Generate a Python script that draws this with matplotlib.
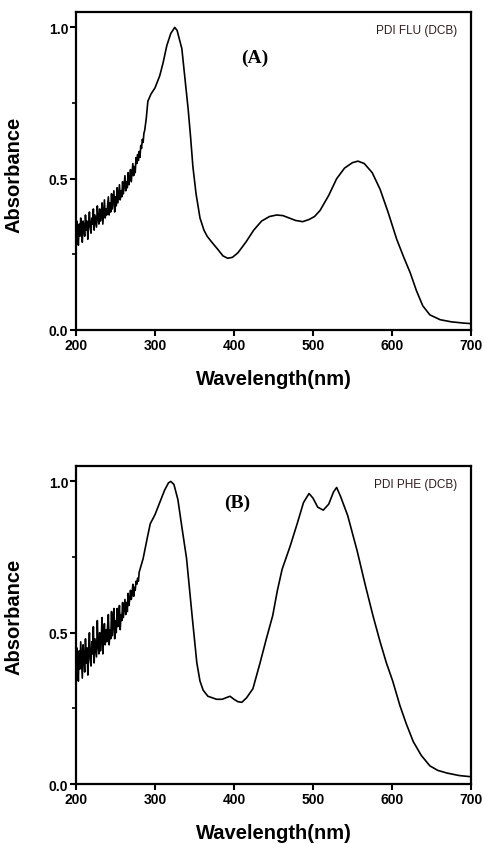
import matplotlib
matplotlib.use('Agg')
import matplotlib.pyplot as plt
from matplotlib.ticker import MultipleLocator

plt.rcParams['font.family'] = ['Liberation Sans', 'DejaVu Sans']

# ---- (A) PDI FLU in DCB ----
# noisy part, 200-290 nm, 1 nm steps
wl_a_noisy = list(range(200, 291))
abs_a_noisy = [0.30, 0.36, 0.33, 0.28, 0.35, 0.31, 0.37, 0.32, 0.29, 0.36,
               0.34, 0.31, 0.38, 0.33, 0.36, 0.30, 0.35, 0.39, 0.34, 0.32,
               0.37, 0.35, 0.40, 0.33, 0.38, 0.36, 0.34, 0.41, 0.37, 0.35,
               0.40, 0.36, 0.38, 0.42, 0.35, 0.39, 0.43, 0.37, 0.40, 0.38,
               0.41, 0.44, 0.38, 0.42, 0.39, 0.45, 0.40, 0.43, 0.46, 0.39,
               0.44, 0.41, 0.47, 0.42, 0.45, 0.48, 0.43, 0.46, 0.44, 0.49,
               0.45, 0.48, 0.51, 0.46, 0.49, 0.47, 0.52, 0.48, 0.50, 0.53,
               0.49, 0.52, 0.55, 0.51, 0.54, 0.52, 0.57, 0.55, 0.58, 0.56,
               0.59, 0.57, 0.61, 0.60, 0.63, 0.62, 0.65, 0.66, 0.68, 0.70,
               0.73]
wl_a_smooth = [291, 295, 300, 306, 310, 315, 320, 325, 328, 331, 334, 338, 342,
               345, 348, 352, 357, 362, 366, 372, 380, 386, 392, 398, 405, 415,
               425, 435, 445, 454, 462, 470, 478, 487, 495, 502, 509, 520, 530,
               540, 550, 557, 565, 575, 585, 595, 606, 615, 623, 631, 639, 648,
               661, 675, 690, 700]
abs_a_smooth = [0.756, 0.78, 0.80, 0.84, 0.88, 0.94, 0.98, 1.0, 0.99, 0.96, 0.93,
                0.83, 0.73, 0.64, 0.54, 0.45, 0.37, 0.33, 0.31, 0.29, 0.265,
                0.245, 0.237, 0.24, 0.255, 0.29, 0.33, 0.36, 0.375, 0.38, 0.378,
                0.37, 0.362, 0.358, 0.365, 0.375, 0.395, 0.445, 0.50, 0.535,
                0.553, 0.558, 0.55, 0.52, 0.465, 0.39, 0.30, 0.24, 0.19, 0.13,
                0.08, 0.05, 0.034, 0.027, 0.023, 0.021]

# ---- (B) PDI PHE in DCB ----
wl_b_noisy = list(range(200, 281))
abs_b_noisy = [0.36, 0.45, 0.40, 0.34, 0.44, 0.38, 0.47, 0.41, 0.35, 0.46,
               0.42, 0.37, 0.48, 0.40, 0.45, 0.36, 0.44, 0.50, 0.41, 0.39,
               0.47, 0.43, 0.52, 0.40, 0.48, 0.45, 0.42, 0.54, 0.46, 0.43,
               0.50, 0.44, 0.48, 0.55, 0.43, 0.49, 0.53, 0.46, 0.51, 0.47,
               0.52, 0.56, 0.46, 0.51, 0.48, 0.57, 0.49, 0.53, 0.58, 0.48,
               0.54, 0.50, 0.58, 0.52, 0.55, 0.59, 0.51, 0.56, 0.54, 0.60,
               0.55, 0.58, 0.61, 0.56, 0.60, 0.57, 0.63, 0.59, 0.61, 0.64,
               0.61, 0.63, 0.66, 0.62, 0.65, 0.64, 0.67, 0.66, 0.68, 0.67,
               0.70]
wl_b_smooth = [285, 290, 294, 300, 306, 312, 317, 320, 324, 329, 334, 340, 347,
               353, 357, 361, 367, 378, 385, 390, 395, 400, 405, 410, 416, 424,
               433, 441, 449, 455, 461, 471, 480, 488, 495, 500, 506, 513, 520,
               526, 530, 535, 544, 556, 566, 576, 585, 593, 601, 610, 618, 627,
               637, 648, 658, 670, 685, 700]
abs_b_smooth = [0.745, 0.81, 0.86, 0.89, 0.93, 0.97, 0.995, 1.0, 0.99, 0.94,
                0.85, 0.745, 0.556, 0.40, 0.34, 0.31, 0.29, 0.28, 0.28, 0.285,
                0.29, 0.28, 0.272, 0.27, 0.285, 0.315, 0.40, 0.48, 0.556, 0.64,
                0.71, 0.785, 0.86, 0.93, 0.96, 0.945, 0.915, 0.905, 0.925, 0.965,
                0.98, 0.95, 0.887, 0.77, 0.66, 0.556, 0.47, 0.40, 0.34, 0.26,
                0.20, 0.14, 0.095, 0.06, 0.045, 0.036, 0.028, 0.024]

# (x, y, tag, name, axes rect, tag position, ylabel centre)
panels = [
    (wl_a_noisy + wl_a_smooth, abs_a_noisy + abs_a_smooth, '(A)', 'PDI FLU (DCB)',
     [0.157, 0.6083, 0.816, 0.376], (0.453, 0.858), 0.49),
    (wl_b_noisy + wl_b_smooth, abs_b_noisy + abs_b_smooth, '(B)', 'PDI PHE (DCB)',
     [0.157, 0.0710, 0.816, 0.376], (0.408, 0.887), 0.53),
]

fig = plt.figure(figsize=(4.84, 8.45), dpi=100)

for wl, ab, tag, name, rect, tagpos, ylc in panels:
    ax = fig.add_axes(rect)
    ax.plot(wl, ab, color='black', lw=1.2)
    ax.set_xlim(200, 700)
    ax.set_ylim(0, 1.05)
    ax.xaxis.set_major_locator(MultipleLocator(100))
    ax.yaxis.set_major_locator(MultipleLocator(0.5))
    ax.yaxis.set_minor_locator(MultipleLocator(0.25))
    for s in ax.spines.values():
        s.set_linewidth(1.6)
    ax.tick_params(axis='both', which='major', direction='out', length=4,
                   width=1.5, labelsize=10)
    ax.tick_params(axis='y', which='minor', direction='out', length=3, width=1.2)
    ax.tick_params(axis='x', pad=1.5)
    ax.tick_params(axis='y', pad=1.5)
    for lbl in ax.get_xticklabels() + ax.get_yticklabels():
        lbl.set_fontweight('bold')
    ax.yaxis.set_major_formatter(plt.FuncFormatter(lambda v, p: f'{v:.1f}'))
    ax.set_xlabel('Wavelength(nm)', fontsize=14.5, fontweight='bold', va='center')
    ax.xaxis.set_label_coords(0.5, -0.153)
    ax.set_ylabel('Absorbance', fontsize=14.5, fontweight='bold', va='center')
    ax.yaxis.set_label_coords(-0.157, ylc)
    ax.text(tagpos[0], tagpos[1], tag, transform=ax.transAxes, ha='center',
            va='center', fontsize=14, fontweight='bold', family='Liberation Serif')
    ax.text(0.965, 0.945, name, transform=ax.transAxes, ha='right', va='center',
            fontsize=8.5, color='#301c1c')

fig.savefig('out.png', dpi=100)
